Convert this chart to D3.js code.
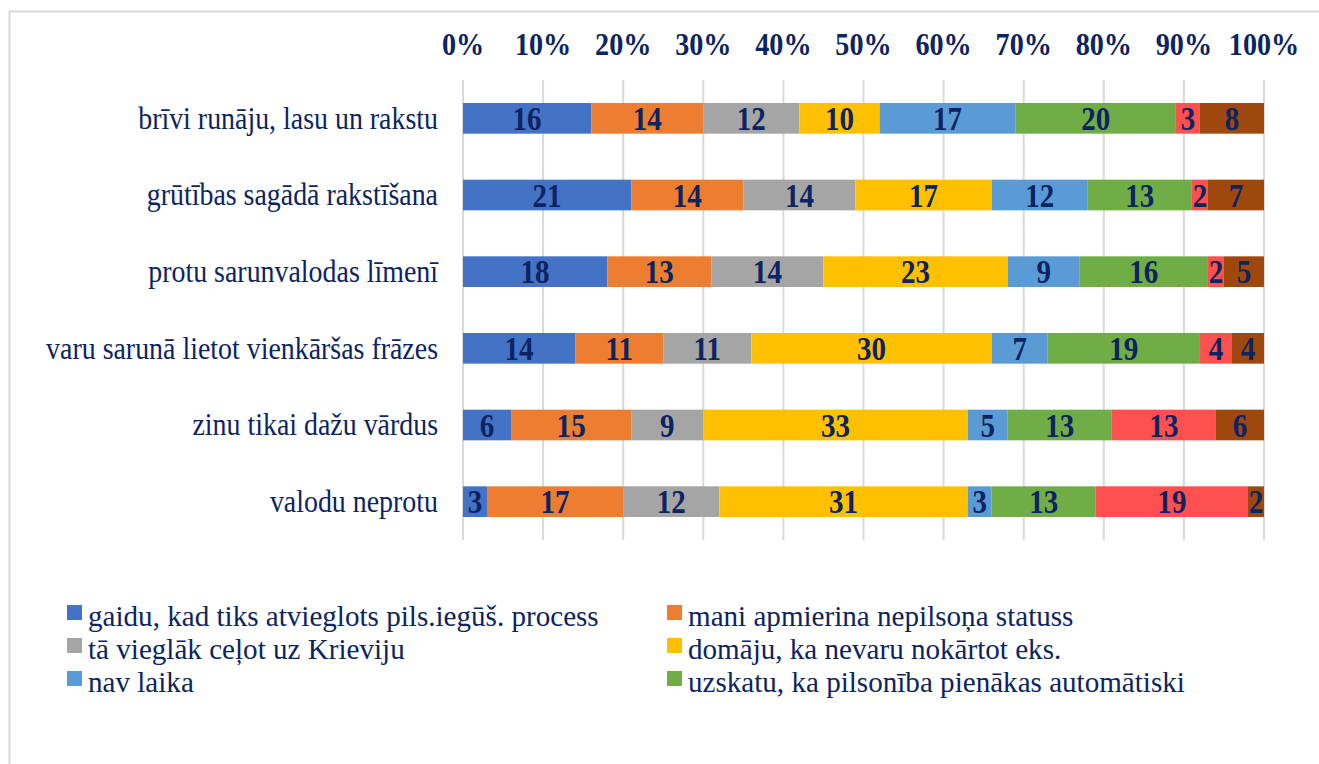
<!DOCTYPE html>
<meta charset="utf-8">
<style>
body { margin: 0; background: #fff; }
text { font-family: "Liberation Serif", "Times New Roman", serif; fill: #0c2461; }
.grid line { stroke: #d9d9d9; stroke-width: 2; }
</style>
<svg width="1319" height="764" id="chart"></svg>
<script src="https://d3js.org/d3.v7.min.js"></script>
<script>
// data (percent)
var categories = ["brīvi runāju, lasu un rakstu", "grūtības sagādā rakstīšana", "protu sarunvalodas līmenī",
  "varu sarunā lietot vienkāršas frāzes", "zinu tikai dažu vārdus", "valodu neprotu"];
var seriesNames = ["gaidu, kad tiks atvieglots pils.iegūš. process", "mani apmierina nepilsoņa statuss",
  "tā vieglāk ceļot uz Krieviju", "domāju, ka nevaru nokārtot eks.", "nav laika",
  "uzskatu, ka pilsonība pienākas automātiski", "cits", "grūti pateikt"];
var gaidu    = [16, 21, 18, 14, 6, 3];
var apmier   = [14, 14, 13, 11, 15, 17];
var celot    = [12, 14, 14, 11, 9, 12];
var eks      = [10, 17, 23, 30, 33, 31];
var laika    = [17, 12, 9, 7, 5, 3];
var autom    = [20, 13, 16, 19, 13, 13];
var cits     = [3, 2, 2, 4, 13, 19];
var gruti    = [8, 7, 5, 4, 6, 2];
var xTicks = [0, 10, 20, 30, 40, 50, 60, 70, 80, 90, 100];
var colors = ["#4472c4", "#ed7d31", "#a5a5a5", "#ffc000", "#5b9bd5", "#70ad47", "#ff5050", "#9e480e"];
var legendCount = 6; // the picture only shows six legend entries

var allSeries = [gaidu, apmier, celot, eks, laika, autom, cits, gruti];
var rows = categories.map(function(c, i) {
  var r = {cat: c};
  seriesNames.forEach(function(s, j) { r[s] = allSeries[j][i]; });
  return r;
});

var svg = d3.select("#chart"),
    margin = {top: 80, right: 55, bottom: 224, left: 463},
    width = +svg.attr("width"),
    height = +svg.attr("height");

// light chart border
svg.append("rect")
  .attr("x", 9.5).attr("y", 11.5)
  .attr("width", 1400).attr("height", 900)
  .attr("fill", "none").attr("stroke", "#d9d9d9").attr("stroke-width", 2);

var x = d3.scaleLinear().domain([0, 100]).range([margin.left, width - margin.right]);
var y = d3.scaleBand().domain(categories)
  .range([margin.top, height - margin.bottom])
  .paddingInner(0.6).paddingOuter(0.3);

var stack = d3.stack().keys(seriesNames)(rows);

svg.append("g").attr("class", "grid")
  .selectAll("line").data(xTicks).enter().append("line")
  .attr("x1", d => x(d)).attr("x2", d => x(d))
  .attr("y1", margin.top).attr("y2", height - margin.bottom);

// top axis labels
svg.append("g").selectAll("text").data(xTicks).enter().append("text")
  .attr("transform", d => `translate(${x(d)},55) scale(0.88,1)`)
  .attr("text-anchor", "middle")
  .attr("font-size", 32).attr("font-weight", "bold")
  .text(d => d + "%");

// category labels
svg.append("g").selectAll("text").data(categories).enter().append("text")
  .attr("transform", d => `translate(438,${y(d) + y.bandwidth() / 2}) scale(0.9,1)`)
  .attr("dy", "0.33em")
  .attr("text-anchor", "end")
  .attr("font-size", 31)
  .text(d => d);

var layer = svg.append("g").selectAll("g").data(stack).enter().append("g")
  .attr("fill", (d, i) => colors[i]);

layer.selectAll("rect").data(d => d).enter().append("rect")
  .attr("x", d => x(d[0]))
  .attr("width", d => x(d[1]) - x(d[0]))
  .attr("y", d => y(d.data.cat))
  .attr("height", y.bandwidth());

layer.selectAll("text").data(d => d).enter().append("text")
  .attr("transform", d => `translate(${(x(d[0]) + x(d[1])) / 2},${y(d.data.cat) + y.bandwidth() / 2}) scale(0.88,1)`)
  .attr("dy", "0.35em")
  .attr("text-anchor", "middle")
  .attr("font-size", 33).attr("font-weight", "bold")
  .text(d => d[1] - d[0]);

// legend
var leg = svg.append("g").selectAll("g").data(seriesNames.slice(0, legendCount)).enter().append("g")
  .attr("transform", (d, i) => `translate(${67 + (i % 2) * 600},${605 + Math.floor(i / 2) * 33})`);
leg.append("rect").attr("width", 15).attr("height", 15).attr("fill", (d, i) => colors[i]);
leg.append("text")
  .attr("transform", "translate(21,21) scale(0.97,1)")
  .attr("font-size", 30)
  .text(d => d);
</script>
